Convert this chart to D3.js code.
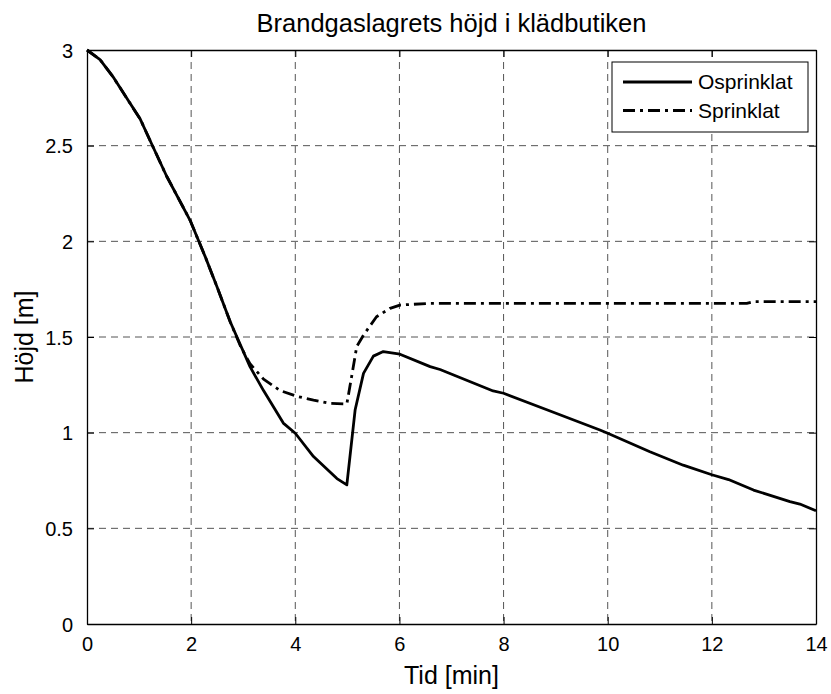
<!DOCTYPE html>
<html>
<head>
<meta charset="utf-8">
<script src="https://cdn.jsdelivr.net/npm/d3@7"></script>
<style>
  html, body { margin: 0; padding: 0; background: #fff; }
  svg text { font-family: "Liberation Sans", Arial, sans-serif; fill: #000; }
</style>
</head>
<body>
<svg id="chart" width="831" height="694"></svg>
<script>
// Smoke layer height over time in the clothing store
const titleText = "Brandgaslagrets höjd i klädbutiken";
const xLabel = "Tid [min]";
const yLabel = "Höjd [m]";
const seriesNames = ["Osprinklat", "Sprinklat"];

const xTicks = [0, 2, 4, 6, 8, 10, 12, 14];
const yTicks = [0, 0.5, 1, 1.5, 2, 2.5, 3];

// Unsprinklered case
const tOsprinklat = [0, 0.25, 0.5, 0.83, 1.02, 1.24, 1.53, 1.98, 2.27, 2.5, 2.75,
  3.13, 3.39, 3.77, 4.0, 4.35, 4.8, 4.99, 5.15, 5.31, 5.5, 5.69, 6.01, 6.59,
  6.78, 7.8, 8.0, 8.83, 9.85, 10.0, 10.81, 11.45, 12.0, 12.32, 12.8, 13.5, 13.69, 14.0];
const hOsprinklat = [3.00, 2.95, 2.86, 2.72, 2.64, 2.51, 2.34, 2.11, 1.92, 1.76, 1.58,
  1.345, 1.22, 1.05, 0.997, 0.875, 0.76, 0.727, 1.12, 1.31, 1.40, 1.424, 1.41, 1.345,
  1.33, 1.218, 1.206, 1.12, 1.014, 0.997, 0.90, 0.83, 0.78, 0.755, 0.70, 0.64, 0.627, 0.592];

// Sprinklered case
const tSprinklat = [0, 0.25, 0.5, 0.83, 1.02, 1.24, 1.53, 1.98, 2.27, 2.5, 2.75,
  2.95, 3.13, 3.39, 3.71, 4.03, 4.35, 4.67, 4.99, 5.08, 5.18, 5.31, 5.56, 5.82,
  6.01, 6.59, 12.67, 12.8, 14.0];
const hSprinklat = [3.00, 2.95, 2.86, 2.72, 2.64, 2.51, 2.34, 2.11, 1.92, 1.76, 1.58,
  1.45, 1.36, 1.28, 1.22, 1.19, 1.17, 1.153, 1.15, 1.29, 1.45, 1.51, 1.606, 1.65,
  1.667, 1.676, 1.676, 1.685, 1.685];

const svg = d3.select("#chart");
const margin = { left: 87, top: 50, right: 831 - 816, bottom: 694 - 624 };
const W = 831 - margin.left - margin.right;
const H = 694 - margin.top - margin.bottom;

const x = d3.scaleLinear().domain([0, 14]).range([0, W]);
const y = d3.scaleLinear().domain([0, 3]).range([H, 0]);

const g = svg.append("g").attr("transform", `translate(${margin.left},${margin.top})`);

// Dashed grid
g.append("g").selectAll("line").data(xTicks.filter(d => d > 0 && d < 14)).join("line")
  .attr("x1", d => x(d)).attr("x2", d => x(d)).attr("y1", 0).attr("y2", H)
  .attr("stroke", "#555").attr("stroke-width", 1).attr("stroke-dasharray", "7,5");
g.append("g").selectAll("line").data(yTicks.filter(d => d > 0 && d < 3)).join("line")
  .attr("y1", d => y(d)).attr("y2", d => y(d)).attr("x1", 0).attr("x2", W)
  .attr("stroke", "#555").attr("stroke-width", 1).attr("stroke-dasharray", "7,5");

// Axes with inward ticks on all four sides
const tickLen = 7;
const axB = g.append("g").attr("transform", `translate(0,${H})`)
  .call(d3.axisBottom(x).tickValues(xTicks).tickSizeInner(-tickLen).tickSizeOuter(0).tickPadding(13).tickFormat(d3.format("d")));
const axT = g.append("g")
  .call(d3.axisTop(x).tickValues(xTicks).tickSizeInner(-tickLen).tickSizeOuter(0).tickFormat(""));
const axL = g.append("g")
  .call(d3.axisLeft(y).tickValues(yTicks).tickSizeInner(-tickLen).tickSizeOuter(0).tickPadding(14).tickFormat(d => d3.format("")(d)));
const axR = g.append("g").attr("transform", `translate(${W},0)`)
  .call(d3.axisRight(y).tickValues(yTicks).tickSizeInner(-tickLen).tickSizeOuter(0).tickFormat(""));

[axB, axT, axL, axR].forEach(a => {
  a.select(".domain").attr("stroke", "#000").attr("stroke-width", 1.3);
  a.selectAll(".tick line").attr("stroke", "#000").attr("stroke-width", 1);
  a.selectAll("text").style("font-family", "'Liberation Sans', Arial, sans-serif")
    .style("font-size", "20px").attr("fill", "#000");
});
axB.selectAll("text").attr("dy", "0.71em");
axL.selectAll("text").attr("dy", "0.35em");

// Curves
const line = d3.line().x(d => x(d[0])).y(d => y(d[1]));
const dataOs = tOsprinklat.map((t, i) => [t, hOsprinklat[i]]);
const dataSp = tSprinklat.map((t, i) => [t, hSprinklat[i]]);
const dashDot = "12,5,3,5";

g.append("path").datum(dataSp).attr("d", line)
  .attr("fill", "none").attr("stroke", "#000").attr("stroke-width", 2.8)
  .attr("stroke-dasharray", dashDot).attr("stroke-linejoin", "round");
g.append("path").datum(dataOs).attr("d", line)
  .attr("fill", "none").attr("stroke", "#000").attr("stroke-width", 2.8)
  .attr("stroke-linejoin", "round");

// Title and axis labels
svg.append("text").attr("x", margin.left + W / 2).attr("y", 32)
  .attr("text-anchor", "middle").style("font-size", "25.5px").text(titleText);
svg.append("text").attr("x", margin.left + W / 2).attr("y", 684)
  .attr("text-anchor", "middle").style("font-size", "25px").text(xLabel);
svg.append("text").attr("transform", `translate(33,${margin.top + H / 2}) rotate(-90)`)
  .attr("text-anchor", "middle").style("font-size", "25px").text(yLabel);

// Legend
const leg = svg.append("g");
leg.append("rect").attr("x", 612).attr("y", 62).attr("width", 196).attr("height", 70)
  .attr("fill", "#fff").attr("stroke", "#000").attr("stroke-width", 1);
const styles = [null, dashDot];
seriesNames.forEach((name, i) => {
  const cy = 82 + i * 28.5;
  leg.append("line").attr("x1", 623).attr("x2", 692).attr("y1", cy).attr("y2", cy)
    .attr("stroke", "#000").attr("stroke-width", 2.8)
    .attr("stroke-dasharray", styles[i]);
  leg.append("text").attr("x", 698).attr("y", cy).attr("dy", "0.35em")
    .style("font-size", "21px").text(name);
});
</script>
</body>
</html>
